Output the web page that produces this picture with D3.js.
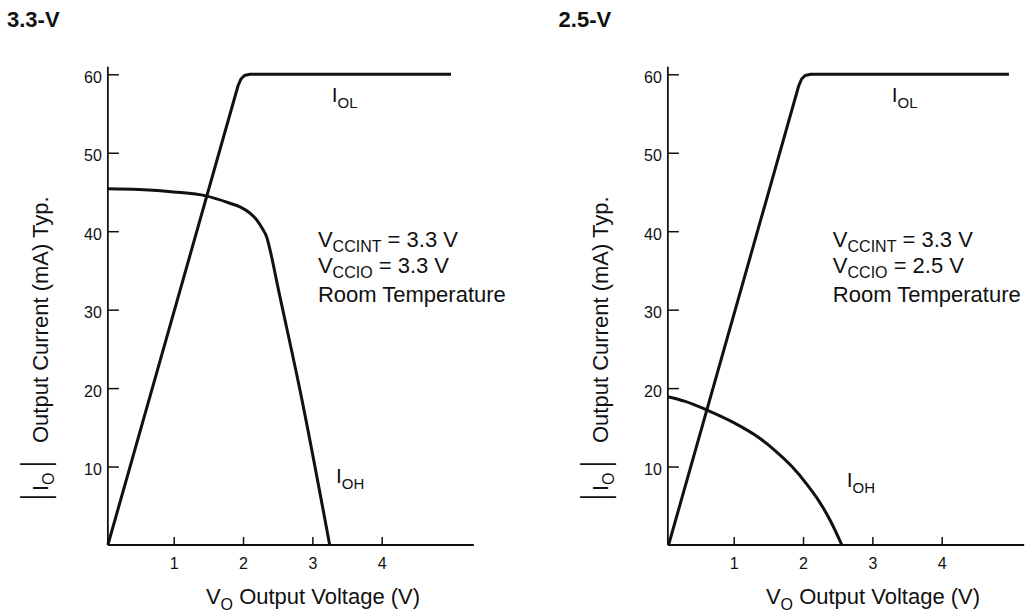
<!DOCTYPE html>
<html>
<head>
<meta charset="utf-8">
<title>Output current vs output voltage</title>
<style>
  body { margin: 0; background: #fff; }
  svg { display: block; }
  text { font-family: "Liberation Sans", Arial, Helvetica, sans-serif; fill: #111; }
  .title { font-family: "Liberation Sans Narrow", "Liberation Sans", Arial, sans-serif; font-weight: bold; font-size: 22px; }
  .axis text { font-size: 16px; fill: #111; }
  .axis line { stroke: #111; stroke-width: 1.5; }
  .axisline { stroke: #111; stroke-width: 1.8; }
  .curve { fill: none; stroke: #111; stroke-width: 3; stroke-linejoin: round; }
  .lbl { font-size: 21px; }
  .axtitle { font-size: 22px; }
  .note { font-size: 22px; }
</style>
</head>
<body>
<svg width="1036" height="614"></svg>
<script src="https://d3js.org/d3.v7.min.js"></script>
<script>

// panel titles and notes
var titles = ['3.3-V', '2.5-V'];
var vccint = ['3.3', '3.3'];
var vccio = ['3.3', '2.5'];

var xTicks = [1, 2, 3, 4];
var yTicks = [10, 20, 30, 40, 50, 60];

// curves, [volts, mA]
var iol33 = [[0.05, 0], [1.93, 58.6], [1.97, 59.4], [2.02, 59.85], [2.1, 60], [5.0, 60]];
var ioh33 = [[0.05, 45.4], [0.5, 45.3], [1.0, 45.0], [1.465, 44.5], [1.8, 43.6], [1.956, 43.1],
             [2.1, 42.3], [2.2, 41.4], [2.28, 40.3], [2.34, 39.3], [2.39, 37.6], [2.5, 33],
             [2.85, 18.5], [3.25, 0]];
var iol25 = [[0.06, 0], [1.94, 58.6], [1.98, 59.4], [2.03, 59.85], [2.11, 60], [4.97, 60]];
var ioh25 = [[0.05, 18.9], [0.3, 18.3], [0.614, 17.2], [1.0, 15.6], [1.36, 13.7], [1.6, 12.0],
             [1.84, 10.0], [2.05, 7.8], [2.23, 5.6], [2.4, 3.0], [2.56, 0]];

var panels = [
  { off: 0,   xEnd: 5.33, iol: iol33, ioh: ioh33, ohLbl: [3.34, 7.9], noteX: 3.08 },
  { off: 560, xEnd: 5.19, iol: iol25, ioh: ioh25, ohLbl: [2.63, 7.4], noteX: 2.43 }
];

var svg = d3.select('svg');

panels.forEach(function(p, i) {
  var x = d3.scaleLinear().domain([0, 5]).range([104.4 + p.off, 451 + p.off]);
  var y = d3.scaleLinear().domain([0, 60]).range([545, 74.3]);

  var g = svg.append('g');

  g.append('text').attr('class', 'title')
    .attr('x', 7 + p.off * 0.985).attr('y', 27).text(titles[i]);

  // axes
  var yAxis = d3.axisLeft(y).tickValues(yTicks).tickSizeInner(-11).tickSizeOuter(0).tickPadding(6);
  var xAxis = d3.axisBottom(x).tickValues(xTicks).tickFormat(d3.format('d'))
    .tickSizeInner(-8).tickSizeOuter(0).tickPadding(13);

  var ya = g.append('g').attr('class', 'axis').attr('transform', 'translate(' + x(0.05) + ',0)').call(yAxis);
  ya.select('.domain').remove();
  ya.selectAll('text').attr('dy', '0.5em');
  var xa = g.append('g').attr('class', 'axis').attr('transform', 'translate(0,' + y(0) + ')').call(xAxis);
  xa.select('.domain').remove();

  g.append('line').attr('class', 'axisline')
    .attr('x1', x(0.05)).attr('x2', x(0.05)).attr('y1', y(0)).attr('y2', y(60.95));
  g.append('line').attr('class', 'axisline')
    .attr('x1', x(0.05)).attr('x2', x(p.xEnd)).attr('y1', y(0)).attr('y2', y(0));

  // curves
  var lineLin = d3.line().x(function(d) { return x(d[0]); }).y(function(d) { return y(d[1]); });
  var lineSmooth = d3.line().curve(d3.curveMonotoneX)
    .x(function(d) { return x(d[0]); }).y(function(d) { return y(d[1]); });
  g.append('path').attr('class', 'curve').attr('d', lineLin(p.iol));
  g.append('path').attr('class', 'curve').attr('d', lineSmooth(p.ioh));

  // curve labels
  var tOL = g.append('text').attr('class', 'lbl').attr('x', x(3.28)).attr('y', y(56.5));
  tOL.append('tspan').text('I');
  tOL.append('tspan').attr('dy', 6).attr('font-size', 15).text('OL');
  var tOH = g.append('text').attr('class', 'lbl').attr('x', x(p.ohLbl[0])).attr('y', y(p.ohLbl[1]));
  tOH.append('tspan').text('I');
  tOH.append('tspan').attr('dy', 6).attr('font-size', 15).text('OH');

  // conditions note
  var n1 = g.append('text').attr('class', 'note').attr('x', x(p.noteX)).attr('y', 247);
  n1.append('tspan').text('V');
  n1.append('tspan').attr('dy', 5).attr('font-size', 16).text('CCINT');
  n1.append('tspan').attr('dy', -5).text(' = ' + vccint[i] + ' V');
  var n2 = g.append('text').attr('class', 'note').attr('x', x(p.noteX)).attr('y', 273);
  n2.append('tspan').text('V');
  n2.append('tspan').attr('dy', 5).attr('font-size', 16).text('CCIO');
  n2.append('tspan').attr('dy', -5).text(' = ' + vccio[i] + ' V');
  g.append('text').attr('class', 'note').attr('x', x(p.noteX)).attr('y', 302).text('Room Temperature');

  // axis titles
  var xt = g.append('text').attr('class', 'axtitle').attr('text-anchor', 'middle')
    .attr('x', 313 + p.off).attr('y', 604);
  xt.append('tspan').text('V');
  xt.append('tspan').attr('dy', 6).attr('font-size', 16).text('O');
  xt.append('tspan').attr('dy', -6).text(' Output Voltage (V)');

  // |Io| Output Current (mA) Typ.  (rotated; tall thin bars)
  var yg = g.append('g').attr('transform', 'translate(' + (48 + p.off) + ',500) rotate(-90)');
  yg.append('text').attr('class', 'axtitle').attr('x', 0)
    .attr('transform', 'scale(1,1.75)').text('|');
  var io = yg.append('text').attr('class', 'axtitle').attr('x', 9);
  io.append('tspan').text('I');
  io.append('tspan').attr('dy', 6).attr('font-size', 16).text('O');
  yg.append('text').attr('class', 'axtitle').attr('x', 33)
    .attr('transform', 'scale(1,1.75)').text('|');
  yg.append('text').attr('class', 'axtitle').attr('x', 57).text('Output Current (mA) Typ.');
});

</script>
</body>
</html>
